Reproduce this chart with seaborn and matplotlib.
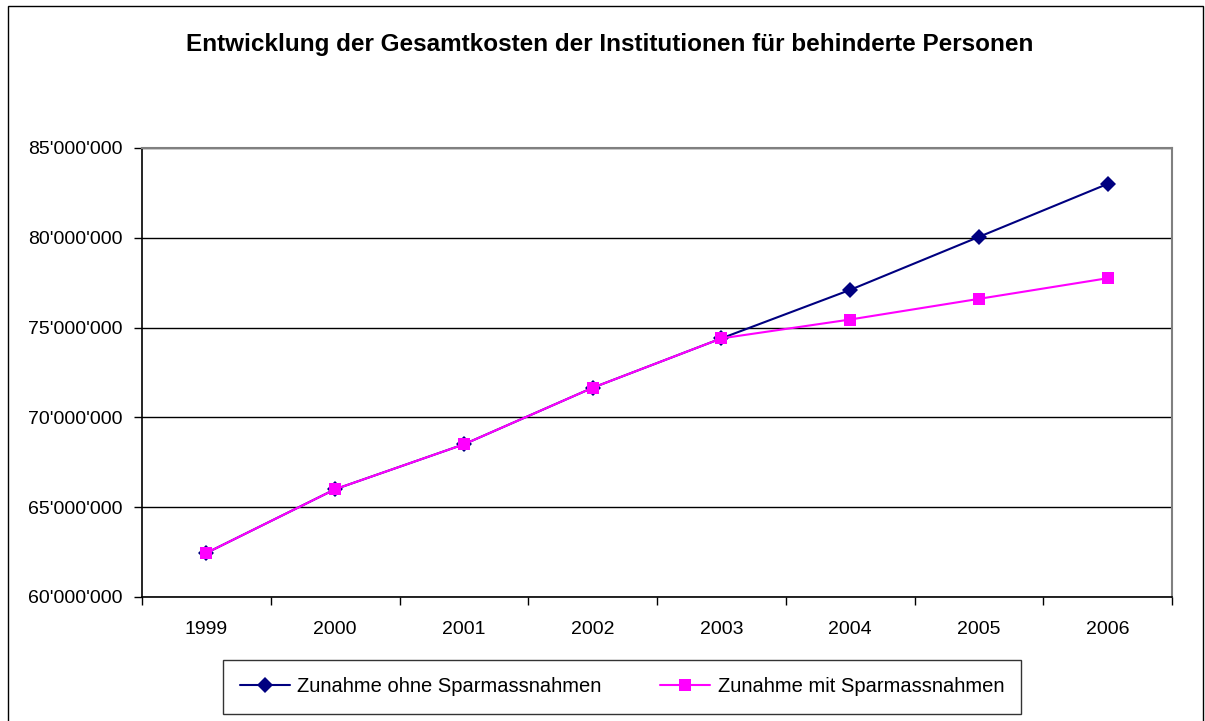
import pandas as pd
import matplotlib.pyplot as plt
import seaborn as sns
from matplotlib.ticker import FuncFormatter, FixedLocator
from matplotlib.patches import Rectangle

years = ["1999", "2000", "2001", "2002", "2003", "2004", "2005", "2006"]
ohne_spar = [62450000, 66000000, 68500000, 71650000, 74400000, 77100000, 80050000, 83000000]
mit_spar = [62450000, 66000000, 68500000, 71650000, 74400000, 75450000, 76600000, 77750000]
series_names = ["Zunahme ohne Sparmassnahmen", "Zunahme mit Sparmassnahmen"]
title = "Entwicklung der Gesamtkosten der Institutionen für behinderte Personen"

df = pd.DataFrame({
    "Jahr": years * 2,
    "pos": list(range(len(years))) * 2,
    "Kosten": ohne_spar + mit_spar,
    "Serie": [series_names[0]] * len(years) + [series_names[1]] * len(years),
})

sns.set_style("white")
plt.rcParams["font.family"] = ["Liberation Sans", "DejaVu Sans"]
plt.rcParams["text.color"] = "black"
plt.rcParams["xtick.color"] = "black"
plt.rcParams["ytick.color"] = "black"

fig = plt.figure(figsize=(12.05, 7.21), dpi=100)
ax = fig.add_axes([142 / 1205, 1 - 597 / 721, (1172 - 142) / 1205, (597 - 148) / 721])

sns.lineplot(data=df, x="pos", y="Kosten", hue="Serie", style="Serie",
             palette={series_names[0]: "#000080", series_names[1]: "#FF00FF"},
             markers={series_names[0]: "D", series_names[1]: "s"},
             dashes=False, markersize=8.5, linewidth=1.5, markeredgewidth=0,
             ax=ax, legend=True)

ax.set_xlim(-0.5, len(years) - 0.5)
ax.set_ylim(60000000, 85000000)
ax.set_yticks(range(60000000, 85000001, 5000000))
ax.yaxis.set_major_formatter(FuncFormatter(lambda v, p: f"{int(v):,}".replace(",", "'")))
ax.set_xticks(range(len(years)))
ax.set_xticklabels(years)
ax.xaxis.set_minor_locator(FixedLocator([i - 0.5 for i in range(len(years) + 1)]))
ax.tick_params(axis="x", which="major", length=0, pad=17, labelsize=14)
ax.tick_params(axis="x", which="minor", length=6, width=1, color="black", direction="out", bottom=True)
ax.tick_params(axis="y", length=6, width=1, color="black", direction="out", left=True, pad=8, labelsize=14)
ax.set_xlabel("")
ax.set_ylabel("")

ax.grid(True, axis="y", color="black", linewidth=1)
for side in ["left", "bottom"]:
    ax.spines[side].set_color("black")
    ax.spines[side].set_linewidth(1.2)
for side in ["top", "right"]:
    ax.spines[side].set_color("#808080")
    ax.spines[side].set_linewidth(1.5)

leg = ax.legend(loc="center", bbox_to_anchor=(622 / 1205, 1 - 687 / 721),
                bbox_transform=fig.transFigure, ncol=2, fontsize=14.5,
                frameon=True, fancybox=False, edgecolor="black",
                borderpad=0.85, columnspacing=2.9, handlelength=2.5, handletextpad=0.35)
leg.get_frame().set_linewidth(1)

fig.text(610 / 1205, 1 - 44 / 721, title, ha="center", va="center",
         fontsize=17.5, fontweight="bold")

fig.patches.append(Rectangle((8 / 1205, -0.01), (1203 - 8) / 1205, 1 - 6 / 721 + 0.01,
                             transform=fig.transFigure, fill=False,
                             edgecolor="black", linewidth=1))

fig.savefig("out.png", dpi=100)
